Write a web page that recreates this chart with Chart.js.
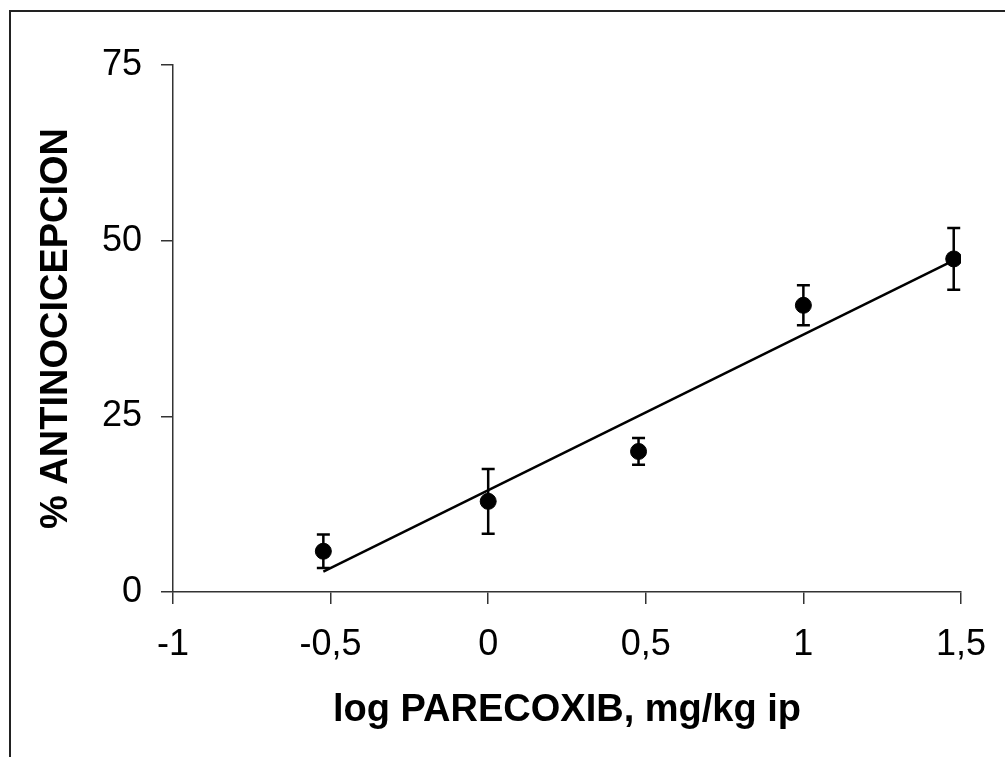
<!DOCTYPE html>
<html>
<head>
<meta charset="utf-8">
<script src="https://cdn.jsdelivr.net/npm/chart.js@4"></script>
<style>
  html, body { margin: 0; padding: 0; background: #fff; overflow: hidden; }
  #wrap { position: relative; width: 1005px; height: 757px; }
  #frame {
    position: absolute; left: 9px; top: 10px; width: 1100px; height: 1000px;
    border: 2px solid #222; box-sizing: border-box;
  }
  canvas { position: absolute; left: 0; top: 0; }
</style>
</head>
<body>
<div id="wrap">
  <div id="frame"></div>
  <canvas id="chart" width="1005" height="757"></canvas>
</div>
<script>
/* =====================================================
   DATA
===================================================== */
const logDose = [-0.523, 0, 0.477, 1, 1.477];
const antinociception = [5.8, 12.9, 20.0, 40.8, 47.4];
const semValues = [2.4, 4.6, 1.9, 2.85, 4.4];

// fitted regression line (end points)
const fitX = [-0.523, 1.477];
const fitY = [2.9, 47.2];

const xTicks = [-1, -0.5, 0, 0.5, 1, 1.5];
const yTicks = [0, 25, 50, 75];

const FONT = "'Liberation Sans', Arial, Helvetica, sans-serif";

/* =====================================================
   ERROR BARS PLUGIN
===================================================== */
const errorBars = {
  id: "errorBars",
  afterDatasetsDraw(chart) {
    const ctx = chart.ctx;
    const xs = chart.scales.x;
    const ys = chart.scales.y;
    ctx.save();
    ctx.strokeStyle = "#000";
    ctx.lineWidth = 2.5;
    logDose.forEach((x, i) => {
      const px = xs.getPixelForValue(x);
      const top = ys.getPixelForValue(antinociception[i] + semValues[i]);
      const bot = ys.getPixelForValue(antinociception[i] - semValues[i]);
      ctx.beginPath();
      ctx.moveTo(px, top);
      ctx.lineTo(px, bot);
      ctx.moveTo(px - 6.5, top);
      ctx.lineTo(px + 6.5, top);
      ctx.moveTo(px - 6.5, bot);
      ctx.lineTo(px + 6.5, bot);
      ctx.stroke();
    });
    ctx.restore();
  }
};

/* =====================================================
   CHART
===================================================== */
new Chart(document.getElementById("chart"), {
  type: "scatter",
  data: {
    datasets: [
      {
        label: "fit",
        data: fitX.map((x, i) => ({ x: x, y: fitY[i] })),
        showLine: true,
        borderColor: "#000",
        borderWidth: 2.5,
        pointRadius: 0,
        order: 2
      },
      {
        label: "% antinocicepcion",
        data: logDose.map((x, i) => ({ x: x, y: antinociception[i] })),
        backgroundColor: "#000",
        borderColor: "#000",
        pointRadius: 8,
        pointHoverRadius: 8,
        order: 1
      }
    ]
  },
  plugins: [errorBars],
  options: {
    responsive: false,
    devicePixelRatio: 1,
    animation: false,
    layout: {
      padding: { left: 0, right: 41, top: 65, bottom: 0 }
    },
    plugins: {
      legend: { display: false },
      tooltip: { enabled: false }
    },
    scales: {
      x: {
        type: "linear",
        min: -1,
        max: 1.5,
        afterFit(scale) { scale.height = 165; },
        afterBuildTicks(scale) { scale.ticks = xTicks.map(v => ({ value: v })); },
        border: { color: "#333", width: 1.5 },
        grid: { drawOnChartArea: false, tickLength: 12, color: "#333", lineWidth: 1.5 },
        ticks: {
          color: "#000",
          padding: 19,
          maxRotation: 0,
          font: { family: FONT, size: 36 },
          callback: v => String(v).replace(".", ",")
        },
        title: {
          display: true,
          text: "log PARECOXIB, mg/kg ip",
          color: "#000",
          font: { family: FONT, size: 38, weight: "bold" },
          padding: { top: 0, bottom: 24 }
        }
      },
      y: {
        min: 0,
        max: 75,
        afterFit(scale) { scale.width = 173; },
        afterBuildTicks(scale) { scale.ticks = yTicks.map(v => ({ value: v })); },
        border: { color: "#333", width: 1.5 },
        grid: { drawOnChartArea: false, tickLength: 12, color: "#333", lineWidth: 1.5 },
        ticks: {
          color: "#000",
          padding: 19,
          font: { family: FONT, size: 36 }
        },
        title: {
          display: true,
          text: "% ANTINOCICEPCION",
          color: "#000",
          font: { family: FONT, size: 38, weight: "bold" },
          padding: { top: 34, bottom: 0 }
        }
      }
    }
  }
});
</script>
</body>
</html>
